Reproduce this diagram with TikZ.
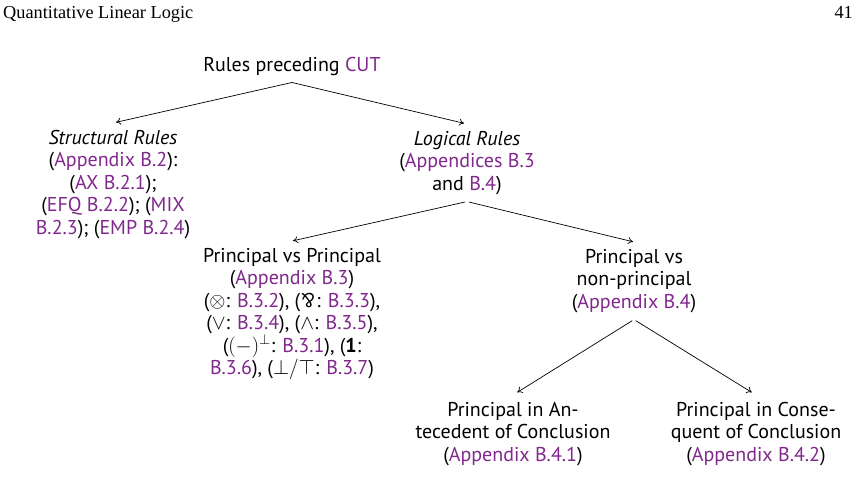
\documentclass[tikz,border=0pt]{standalone}
\usepackage{fontspec}
\setmainfont{PT Sans}
\newfontfamily\hdrfont{Liberation Serif}
\usetikzlibrary{arrows.meta}
\definecolor{lkcol}{RGB}{128,40,140}
\newcommand{\lk}[1]{\textcolor{lkcol}{#1}}
\newcommand{\myparr}{\smash{\rotatebox[origin=c]{180}{\&}}}
\newcommand{\sm}[1]{\smash{$#1$}}
\begin{document}
\begin{tikzpicture}[x=1pt,y=-1pt,
  box/.style={anchor=north, align=center, inner sep=7pt, outer sep=0pt,
    font=\fontsize{20}{22.5}\selectfont},
  conn/.style={-{To[length=5pt,width=7pt]}, line width=0.7pt}]
\path[use as bounding box] (0,0) rectangle (868,500);
\node[anchor=base west, inner sep=0pt, font=\hdrfont\fontsize{18.3}{20}\selectfont] (hdr) at (3,19) {Quantitative Linear Logic};
\node[anchor=base east, inner sep=0pt, font=\hdrfont\fontsize{18.3}{20}\selectfont] (pg) at (853,19) {41};

\node[box] (root) at (292,50) {Rules preceding \lk{CUT}};
\node[box] (sr) at (113,123) {\textit{Structural Rules}\\(\lk{Appendix B.2}):\\(\lk{AX B.2.1});\\(\lk{EFQ B.2.2}); (\lk{MIX}\\\lk{B.2.3}); (\lk{EMP B.2.4})};
\node[box] (lr) at (467,124) {\textit{Logical Rules}\\(\lk{Appendices B.3}\\and \lk{B.4})};
\node[box] (pvp) at (292,241) {Principal vs Principal\\(\lk{Appendix B.3})\\(\sm{\otimes}: \lk{B.3.2}), (\myparr: \lk{B.3.3}),\\(\sm{\vee}: \lk{B.3.4}), (\sm{\wedge}: \lk{B.3.5}),\\(\sm{(-)^{\perp}}: \lk{B.3.1}), (\sm{\mathbf{1}}:\\\lk{B.3.6}), (\sm{\bot/\top}: \lk{B.3.7})};
\node[box] (pvnp) at (634,242) {Principal vs\\non-principal\\(\lk{Appendix B.4})};
\node[box] (bl) at (513,395) {Principal in An-\\tecedent of Conclusion\\(\lk{Appendix B.4.1})};
\node[box] (br) at (756,395) {Principal in Conse-\\quent of Conclusion\\(\lk{Appendix B.4.2})};

\draw[conn, shorten >=3pt] (root.south) -- (sr.north);
\draw[conn, shorten >=3pt] (root.south) -- (lr.north);
\draw[conn, shorten <=2pt, shorten >=1pt] (lr.south) -- (pvp.north);
\draw[conn, shorten <=2pt, shorten >=1pt] (lr.south) -- (pvnp.north);
\draw[conn, shorten <=2pt, shorten >=5pt] (pvnp.south) -- (bl.north);
\draw[conn, shorten <=2pt, shorten >=5pt] (pvnp.south) -- (br.north);
\end{tikzpicture}
\end{document}
